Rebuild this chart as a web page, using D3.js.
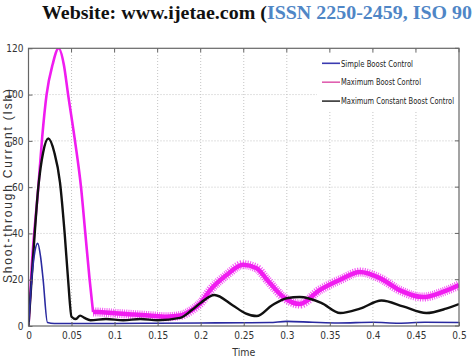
<!DOCTYPE html>
<html>
<head>
<meta charset="utf-8">
<script src="https://cdn.jsdelivr.net/npm/d3@7"></script>
<style>
  body { margin: 0; background: #fff; }
  svg { display: block; }
</style>
</head>
<body>
<div class="chart"></div>
<script>
// tick labels
var xTicks = [0, 0.05, 0.1, 0.15, 0.2, 0.25, 0.3, 0.35, 0.4, 0.45, 0.5];
var xTickLabels = ["0", "0.05", "0.1", "0.15", "0.2", "0.25", "0.3", "0.35", "0.4", "0.45", "0.5"];
var yTicks = [0, 20, 40, 60, 80, 100, 120];

var seriesNames = ["Simple Boost Control", "Maximum Boost Control", "Maximum Constant Boost Control"];

// Simple Boost Control (blue)
var simpleT = [0, 0.0037, 0.0065, 0.0107, 0.014, 0.017, 0.022, 0.03, 0.05, 0.1, 0.15, 0.2, 0.25, 0.28, 0.3, 0.33, 0.36, 0.4, 0.43, 0.46, 0.5];
var simpleV = [0, 20, 30, 35.7, 30, 20, 1.5, 1.1, 1.1, 1.1, 1.2, 1.3, 1.4, 1.5, 2, 1.6, 1.3, 1.6, 1.2, 1.6, 1.5];

// Maximum Boost Control (magenta)
var maxT = [0, 0.004, 0.0114, 0.016, 0.021, 0.028, 0.035, 0.041, 0.046, 0.054, 0.061, 0.066, 0.071, 0.075, 0.08, 0.1, 0.12, 0.14, 0.16, 0.176, 0.19, 0.2, 0.211, 0.23, 0.249, 0.265, 0.277, 0.296, 0.315, 0.338, 0.362, 0.385, 0.408, 0.431, 0.458, 0.481, 0.5];
var maxV = [0, 27, 60, 82, 100, 113, 120, 113, 100, 80, 60, 40, 20, 6, 6, 5.5, 5, 4.5, 4, 4.5, 7, 10, 15.5, 22, 26.5, 25, 20, 12.5, 9.5, 15.5, 20, 23.3, 20.7, 15.5, 12.5, 14.7, 17.7];

// Maximum Constant Boost Control (black)
var constT = [0, 0.005, 0.0114, 0.017, 0.023, 0.03, 0.0366, 0.042, 0.046, 0.05, 0.055, 0.06, 0.065, 0.072, 0.09, 0.11, 0.13, 0.15, 0.176, 0.19, 0.2, 0.216, 0.237, 0.252, 0.265, 0.283, 0.3, 0.315, 0.34, 0.362, 0.385, 0.41, 0.435, 0.462, 0.485, 0.5];
var constV = [0, 28, 60, 75, 81, 75, 62, 40, 20, 4, 3, 4.5, 3.5, 2.5, 3, 2.5, 3, 2.5, 3.5, 7, 10, 13.4, 9, 5.5, 4.3, 9, 12, 12.5, 10, 5.6, 7.5, 11, 8.5, 5.6, 7.5, 9.5];

var w = 474, h = 358;
var svg = d3.select(".chart").append("svg")
            .attr("width", w)
            .attr("height", h);

svg.append("rect").attr("width", w).attr("height", h).attr("fill", "#fff");

// header from the paper page
var header = svg.append("text")
   .attr("x", 42).attr("y", 19)
   .attr("font-family", "Liberation Serif, serif")
   .attr("font-weight", "bold")
   .attr("font-size", 19)
   .attr("textLength", 430).attr("lengthAdjust", "spacingAndGlyphs");
header.append("tspan").attr("fill", "#111").text("Website: www.ijetae.com (");
header.append("tspan").attr("fill", "#4f86c6").text("ISSN 2250-2459, ISO 90");

var xScale = d3.scaleLinear().domain([0, 0.5]).range([28.5, 459]);
var yScale = d3.scaleLinear().domain([0, 120]).range([326, 48.3]);
var x0 = xScale(0), x1 = xScale(0.5), y0 = yScale(0), y1 = yScale(120);

var narrow = "Liberation Sans Narrow, DejaVu Sans Condensed, Arial Narrow, sans-serif";

// grid
var grid = svg.append("g");
grid.selectAll(".gx").data(xTicks.slice(1, -1)).enter().append("line")
    .attr("x1", function(d) { return xScale(d); })
    .attr("x2", function(d) { return xScale(d); })
    .attr("y1", y0).attr("y2", y1)
    .attr("stroke", "#c4c4c4").attr("stroke-width", 1)
    .attr("stroke-dasharray", "1,2");
grid.selectAll(".gy").data(yTicks.slice(1, -1)).enter().append("line")
    .attr("x1", x0).attr("x2", x1)
    .attr("y1", function(d) { return yScale(d); })
    .attr("y2", function(d) { return yScale(d); })
    .attr("stroke", "#c4c4c4").attr("stroke-width", 1)
    .attr("stroke-dasharray", "1,2");

// clip
svg.append("clipPath").attr("id", "clip")
   .append("rect").attr("x", x0).attr("y", y1).attr("width", x1 - x0).attr("height", y0 - y1);

function pts(ts, vs) {
    return ts.map(function(t, i) { return [t, vs[i]]; });
}
var line = d3.line()
    .x(function(d) { return xScale(d[0]); })
    .y(function(d) { return yScale(d[1]); })
    .curve(d3.curveMonotoneX);

var plot = svg.append("g").attr("clip-path", "url(#clip)");

var maxPts = pts(maxT, maxV);
var spike = maxPts.filter(function(d) { return d[0] <= 0.075; });
var ripple = maxPts.filter(function(d) { return d[0] >= 0.075; });

// magenta with ripple band
plot.append("path").datum(ripple)
    .attr("fill", "none").attr("stroke", "#f01cf0")
    .attr("stroke-width", 9).attr("stroke-dasharray", "1,1.2")
    .attr("stroke-opacity", 0.75)
    .attr("d", line);
plot.append("path").datum(ripple)
    .attr("fill", "none").attr("stroke", "#f01cf0")
    .attr("stroke-width", 4.5)
    .attr("d", line);
plot.append("path").datum(spike)
    .attr("fill", "none").attr("stroke", "#f01cf0")
    .attr("stroke-width", 2.6)
    .attr("d", line);

plot.append("path").datum(pts(constT, constV))
    .attr("fill", "none").attr("stroke", "#111")
    .attr("stroke-width", 2.4)
    .attr("d", line);

plot.append("path").datum(pts(simpleT, simpleV))
    .attr("fill", "none").attr("stroke", "#2a2aa0")
    .attr("stroke-width", 1.6)
    .attr("d", line);

// axes
var xAxis = d3.axisBottom(xScale).tickValues(xTicks)
    .tickFormat(function(d, i) { return xTickLabels[i]; })
    .tickSize(-4).tickPadding(6);
var yAxis = d3.axisLeft(yScale).tickValues(yTicks)
    .tickSize(-4).tickPadding(5);

var gx = svg.append("g").attr("transform", "translate(0," + y0 + ")").call(xAxis);
var gy = svg.append("g").attr("transform", "translate(" + x0 + ",0)").call(yAxis);
[gx, gy].forEach(function(g) {
    g.select(".domain").remove();
    g.selectAll("line").attr("stroke", "#666");
    g.selectAll("text").attr("font-family", narrow).attr("font-size", 10).attr("fill", "#333");
});

// top/right ticks
svg.append("g").selectAll("line").data(xTicks).enter().append("line")
   .attr("x1", function(d) { return xScale(d); }).attr("x2", function(d) { return xScale(d); })
   .attr("y1", y1).attr("y2", y1 + 4).attr("stroke", "#666");
svg.append("g").selectAll("line").data(yTicks).enter().append("line")
   .attr("y1", function(d) { return yScale(d); }).attr("y2", function(d) { return yScale(d); })
   .attr("x1", x1).attr("x2", x1 - 4).attr("stroke", "#666");

// legend
var legendColors = ["#3a3ab0", "#e060b0", "#333"];
var legend = svg.append("g");
legend.append("rect")
   .attr("x", 317).attr("y", 53).attr("width", x1 - 317).attr("height", 57)
   .attr("fill", "#fff");
var rows = legend.selectAll(".row").data(seriesNames).enter().append("g")
   .attr("transform", function(d, i) { return "translate(0," + (63.3 + i * 18.9) + ")"; });
rows.append("line")
   .attr("x1", 322).attr("x2", 340).attr("y1", 0).attr("y2", 0)
   .attr("stroke", function(d, i) { return legendColors[i]; }).attr("stroke-width", 1.6);
rows.append("text")
   .attr("x", 341).attr("y", 3.2)
   .attr("font-family", narrow).attr("font-size", 8.6).attr("fill", "#222")
   .attr("textLength", function(d, i) { return [72, 80, 113][i]; })
   .attr("lengthAdjust", "spacingAndGlyphs")
   .text(function(d) { return d; });

// frame
svg.append("rect")
   .attr("x", x0).attr("y", y1).attr("width", x1 - x0).attr("height", y0 - y1)
   .attr("fill", "none").attr("stroke", "#666").attr("stroke-width", 1.2);

// axis titles
svg.append("text")
   .attr("x", xScale(0.25)).attr("y", 356)
   .attr("text-anchor", "middle")
   .attr("font-family", narrow).attr("font-size", 10.5).attr("fill", "#333")
   .text("Time");
svg.append("text")
   .attr("transform", "translate(12,186) rotate(-90)")
   .attr("text-anchor", "middle")
   .attr("font-family", "Liberation Sans, Arial, sans-serif").attr("font-size", 12).attr("fill", "#333")
   .attr("textLength", 194).attr("lengthAdjust", "spacing")
   .text("Shoot-through Current (Ish)");
</script>
</body>
</html>
